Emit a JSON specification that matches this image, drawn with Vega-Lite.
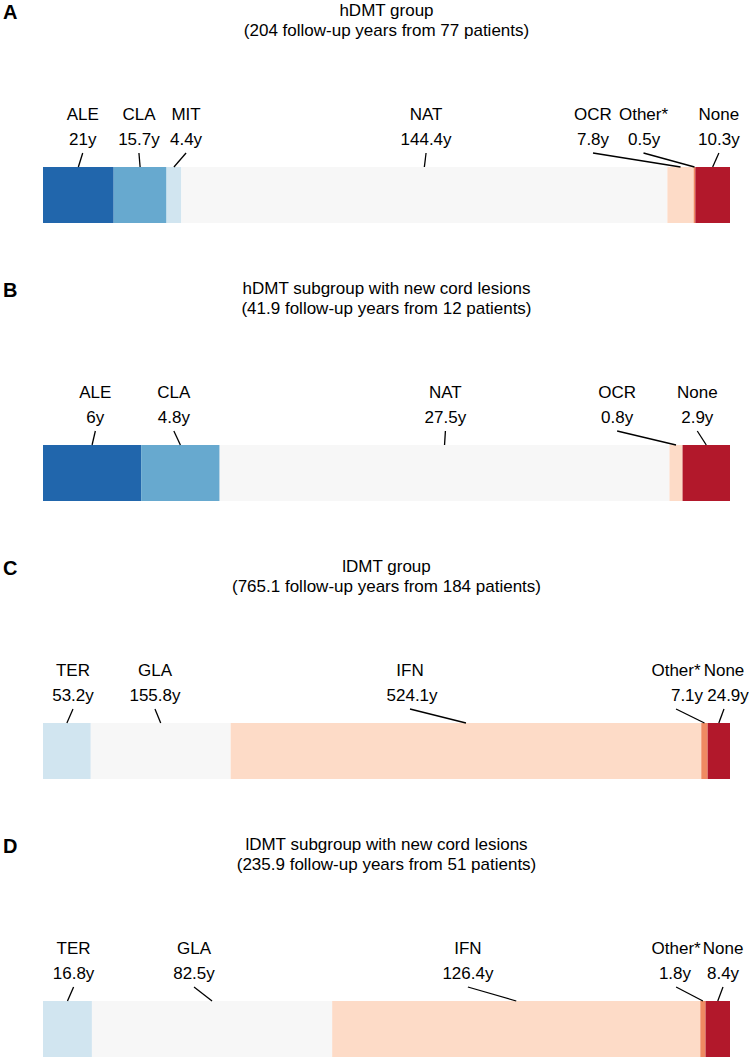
{
  "$schema": "https://vega.github.io/schema/vega-lite/v6.json",
  "padding": {"left": 3, "top": 2, "right": 0, "bottom": 0},
  "background": "white",
  "config": {
    "view": {"stroke": null},
    "font": "Liberation Sans",
    "title": {"font": "Liberation Sans", "fontSize": 17, "fontWeight": "normal", "color": "black", "lineHeight": 20, "anchor": "middle", "frame": "group", "offset": -37},
    "text": {"font": "Liberation Sans", "fontSize": 17, "color": "black"}
  },
  "data": {"values": [
    {"panel": "A", "order": 1, "treatment": "ALE", "years": 21, "label": "21y", "nameX": 11.8, "valueX": 11.8},
    {"panel": "A", "order": 2, "treatment": "CLA", "years": 15.7, "label": "15.7y", "nameX": 28.5, "valueX": 28.5},
    {"panel": "A", "order": 3, "treatment": "MIT", "years": 4.4, "label": "4.4y", "nameX": 42.5, "valueX": 42.5},
    {"panel": "A", "order": 4, "treatment": "NAT", "years": 144.4, "label": "144.4y", "nameX": 113.8, "valueX": 113.8},
    {"panel": "A", "order": 5, "treatment": "OCR", "years": 7.8, "label": "7.8y", "nameX": 163.4, "valueX": 163.4},
    {"panel": "A", "order": 6, "treatment": "Other*", "years": 0.5, "label": "0.5y", "nameX": 178.4, "valueX": 178.6},
    {"panel": "A", "order": 7, "treatment": "None", "years": 10.3, "label": "10.3y", "nameX": 200.8, "valueX": 200.8},
    {"panel": "B", "order": 1, "treatment": "ALE", "years": 6, "label": "6y", "nameX": 3.2, "valueX": 3.2},
    {"panel": "B", "order": 2, "treatment": "CLA", "years": 4.8, "label": "4.8y", "nameX": 8.0, "valueX": 8.0},
    {"panel": "B", "order": 3, "treatment": "NAT", "years": 27.5, "label": "27.5y", "nameX": 24.6, "valueX": 24.6},
    {"panel": "B", "order": 4, "treatment": "OCR", "years": 0.8, "label": "0.8y", "nameX": 35.1, "valueX": 35.1},
    {"panel": "B", "order": 5, "treatment": "None", "years": 2.9, "label": "2.9y", "nameX": 40.0, "valueX": 40.0},
    {"panel": "C", "order": 1, "treatment": "TER", "years": 53.2, "label": "53.2y", "nameX": 33.4, "valueX": 33.4},
    {"panel": "C", "order": 2, "treatment": "GLA", "years": 155.8, "label": "155.8y", "nameX": 124.7, "valueX": 124.7},
    {"panel": "C", "order": 3, "treatment": "IFN", "years": 524.1, "label": "524.1y", "nameX": 408.7, "valueX": 411.0},
    {"panel": "C", "order": 4, "treatment": "Other*", "years": 7.1, "label": "7.1y", "nameX": 705.0, "valueX": 717.2},
    {"panel": "C", "order": 5, "treatment": "None", "years": 24.9, "label": "24.9y", "nameX": 758.4, "valueX": 762.9},
    {"panel": "D", "order": 1, "treatment": "TER", "years": 16.8, "label": "16.8y", "nameX": 10.5, "valueX": 10.5},
    {"panel": "D", "order": 2, "treatment": "GLA", "years": 82.5, "label": "82.5y", "nameX": 51.85, "valueX": 51.85},
    {"panel": "D", "order": 3, "treatment": "IFN", "years": 126.4, "label": "126.4y", "nameX": 145.9, "valueX": 145.9},
    {"panel": "D", "order": 4, "treatment": "Other*", "years": 1.8, "label": "1.8y", "nameX": 217.4, "valueX": 217.0},
    {"panel": "D", "order": 5, "treatment": "None", "years": 8.4, "label": "8.4y", "nameX": 233.5, "valueX": 233.5}
  ]},
  "spacing": 57,
  "resolve": {"scale": {"x": "independent", "y": "independent"}},
  "vconcat": [
    {
      "width": 687, "height": 130,
      "title": {"text": ["hDMT group", "(204 follow-up years from 77 patients)"]},
      "transform": [
        {"filter": "datum.panel == 'A'"},
        {"stack": "years", "groupby": ["panel"], "sort": [{"field": "order"}], "as": ["x0", "x1"]}
      ],
      "layer": [
        {"mark": {"type": "bar"}, "encoding": {
          "x": {"field": "x0", "type": "quantitative", "scale": {"domain": [0, 204.1], "nice": false, "zero": true}, "axis": null},
          "x2": {"field": "x1"},
          "y": {"datum": 0, "type": "quantitative", "scale": {"domain": [0, 130], "nice": false}, "axis": null},
          "y2": {"datum": 56},
          "color": {"field": "treatment", "type": "nominal", "legend": null, "scale": {"domain": ["ALE","CLA","MIT","NAT","OCR","Other*","None","TER","GLA","IFN"], "range": ["#2166ac","#67a9cf","#d1e5f0","#f7f7f7","#fddbc7","#ef8a62","#b2182b","#d1e5f0","#f7f7f7","#fddbc7"]}}
        }},
        {"transform": [{"fold": ["x0", "x1"], "as": ["edge", "pos"]}, {"aggregate": [{"op": "mean", "field": "pos", "as": "mid"}], "groupby": ["treatment", "nameX"]}],
         "mark": {"type": "rule", "color": "black", "strokeWidth": 1.3},
         "encoding": {"x": {"field": "nameX", "type": "quantitative"}, "x2": {"field": "mid"}, "y": {"datum": 70}, "y2": {"datum": 56}}},
        {"mark": {"type": "text", "align": "center", "baseline": "middle"}, "encoding": {"x": {"field": "nameX", "type": "quantitative"}, "y": {"datum": 108}, "text": {"field": "treatment"}}},
        {"mark": {"type": "text", "align": "center", "baseline": "middle"}, "encoding": {"x": {"field": "valueX", "type": "quantitative"}, "y": {"datum": 83}, "text": {"field": "label"}}},
        {"transform": [{"filter": "datum.order == 1"}], "mark": {"type": "text", "align": "left", "baseline": "middle", "fontSize": 20, "fontWeight": "bold", "dx": -40}, "encoding": {"x": {"datum": 0}, "y": {"datum": 210}, "text": {"field": "panel"}}}
      ]
    },
    {
      "width": 687, "height": 130,
      "title": {"text": ["hDMT subgroup with new cord lesions", "(41.9 follow-up years from 12 patients)"]},
      "transform": [
        {"filter": "datum.panel == 'B'"},
        {"stack": "years", "groupby": ["panel"], "sort": [{"field": "order"}], "as": ["x0", "x1"]}
      ],
      "layer": [
        {"mark": {"type": "bar"}, "encoding": {
          "x": {"field": "x0", "type": "quantitative", "scale": {"domain": [0, 42.0], "nice": false, "zero": true}, "axis": null},
          "x2": {"field": "x1"},
          "y": {"datum": 0, "type": "quantitative", "scale": {"domain": [0, 130], "nice": false}, "axis": null},
          "y2": {"datum": 56},
          "color": {"field": "treatment", "type": "nominal", "legend": null, "scale": {"domain": ["ALE","CLA","MIT","NAT","OCR","Other*","None","TER","GLA","IFN"], "range": ["#2166ac","#67a9cf","#d1e5f0","#f7f7f7","#fddbc7","#ef8a62","#b2182b","#d1e5f0","#f7f7f7","#fddbc7"]}}
        }},
        {"transform": [{"fold": ["x0", "x1"], "as": ["edge", "pos"]}, {"aggregate": [{"op": "mean", "field": "pos", "as": "mid"}], "groupby": ["treatment", "nameX"]}],
         "mark": {"type": "rule", "color": "black", "strokeWidth": 1.3},
         "encoding": {"x": {"field": "nameX", "type": "quantitative"}, "x2": {"field": "mid"}, "y": {"datum": 70}, "y2": {"datum": 56}}},
        {"mark": {"type": "text", "align": "center", "baseline": "middle"}, "encoding": {"x": {"field": "nameX", "type": "quantitative"}, "y": {"datum": 108}, "text": {"field": "treatment"}}},
        {"mark": {"type": "text", "align": "center", "baseline": "middle"}, "encoding": {"x": {"field": "valueX", "type": "quantitative"}, "y": {"datum": 83}, "text": {"field": "label"}}},
        {"transform": [{"filter": "datum.order == 1"}], "mark": {"type": "text", "align": "left", "baseline": "middle", "fontSize": 20, "fontWeight": "bold", "dx": -40}, "encoding": {"x": {"datum": 0}, "y": {"datum": 210}, "text": {"field": "panel"}}}
      ]
    },
    {
      "width": 687, "height": 130,
      "title": {"text": ["lDMT group", "(765.1 follow-up years from 184 patients)"]},
      "transform": [
        {"filter": "datum.panel == 'C'"},
        {"stack": "years", "groupby": ["panel"], "sort": [{"field": "order"}], "as": ["x0", "x1"]}
      ],
      "layer": [
        {"mark": {"type": "bar"}, "encoding": {
          "x": {"field": "x0", "type": "quantitative", "scale": {"domain": [0, 765.1], "nice": false, "zero": true}, "axis": null},
          "x2": {"field": "x1"},
          "y": {"datum": 0, "type": "quantitative", "scale": {"domain": [0, 130], "nice": false}, "axis": null},
          "y2": {"datum": 56},
          "color": {"field": "treatment", "type": "nominal", "legend": null, "scale": {"domain": ["ALE","CLA","MIT","NAT","OCR","Other*","None","TER","GLA","IFN"], "range": ["#2166ac","#67a9cf","#d1e5f0","#f7f7f7","#fddbc7","#ef8a62","#b2182b","#d1e5f0","#f7f7f7","#fddbc7"]}}
        }},
        {"transform": [{"fold": ["x0", "x1"], "as": ["edge", "pos"]}, {"aggregate": [{"op": "mean", "field": "pos", "as": "mid"}], "groupby": ["treatment", "nameX"]}],
         "mark": {"type": "rule", "color": "black", "strokeWidth": 1.3},
         "encoding": {"x": {"field": "nameX", "type": "quantitative"}, "x2": {"field": "mid"}, "y": {"datum": 70}, "y2": {"datum": 56}}},
        {"mark": {"type": "text", "align": "center", "baseline": "middle"}, "encoding": {"x": {"field": "nameX", "type": "quantitative"}, "y": {"datum": 108}, "text": {"field": "treatment"}}},
        {"mark": {"type": "text", "align": "center", "baseline": "middle"}, "encoding": {"x": {"field": "valueX", "type": "quantitative"}, "y": {"datum": 83}, "text": {"field": "label"}}},
        {"transform": [{"filter": "datum.order == 1"}], "mark": {"type": "text", "align": "left", "baseline": "middle", "fontSize": 20, "fontWeight": "bold", "dx": -40}, "encoding": {"x": {"datum": 0}, "y": {"datum": 210}, "text": {"field": "panel"}}}
      ]
    },
    {
      "width": 687, "height": 130,
      "title": {"text": ["lDMT subgroup with new cord lesions", "(235.9 follow-up years from 51 patients)"]},
      "transform": [
        {"filter": "datum.panel == 'D'"},
        {"stack": "years", "groupby": ["panel"], "sort": [{"field": "order"}], "as": ["x0", "x1"]}
      ],
      "layer": [
        {"mark": {"type": "bar"}, "encoding": {
          "x": {"field": "x0", "type": "quantitative", "scale": {"domain": [0, 235.9], "nice": false, "zero": true}, "axis": null},
          "x2": {"field": "x1"},
          "y": {"datum": 0, "type": "quantitative", "scale": {"domain": [0, 130], "nice": false}, "axis": null},
          "y2": {"datum": 56},
          "color": {"field": "treatment", "type": "nominal", "legend": null, "scale": {"domain": ["ALE","CLA","MIT","NAT","OCR","Other*","None","TER","GLA","IFN"], "range": ["#2166ac","#67a9cf","#d1e5f0","#f7f7f7","#fddbc7","#ef8a62","#b2182b","#d1e5f0","#f7f7f7","#fddbc7"]}}
        }},
        {"transform": [{"fold": ["x0", "x1"], "as": ["edge", "pos"]}, {"aggregate": [{"op": "mean", "field": "pos", "as": "mid"}], "groupby": ["treatment", "nameX"]}],
         "mark": {"type": "rule", "color": "black", "strokeWidth": 1.3},
         "encoding": {"x": {"field": "nameX", "type": "quantitative"}, "x2": {"field": "mid"}, "y": {"datum": 70}, "y2": {"datum": 56}}},
        {"mark": {"type": "text", "align": "center", "baseline": "middle"}, "encoding": {"x": {"field": "nameX", "type": "quantitative"}, "y": {"datum": 108}, "text": {"field": "treatment"}}},
        {"mark": {"type": "text", "align": "center", "baseline": "middle"}, "encoding": {"x": {"field": "valueX", "type": "quantitative"}, "y": {"datum": 83}, "text": {"field": "label"}}},
        {"transform": [{"filter": "datum.order == 1"}], "mark": {"type": "text", "align": "left", "baseline": "middle", "fontSize": 20, "fontWeight": "bold", "dx": -40}, "encoding": {"x": {"datum": 0}, "y": {"datum": 210}, "text": {"field": "panel"}}}
      ]
    }
  ]
}
